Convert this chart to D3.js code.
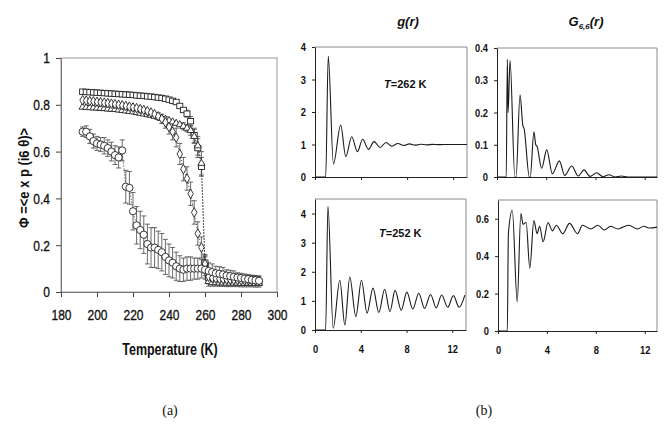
<!DOCTYPE html>
<html>
<head>
<meta charset="utf-8">
<script src="https://cdn.jsdelivr.net/npm/d3@7"></script>
<style>
  body { margin: 0; background: #fff; }
  text { font-family: Arial, "Liberation Sans", sans-serif; fill: #111; }
</style>
</head>
<body>
<svg id="svg" width="667" height="436"></svg>
<script>
// ---- panel (a): order parameter vs temperature ----
const temps = [192,194,196,198,200,202,204,206,208,210,212,214,216,218,220,222,224,226,228,230,
  232,234,236,238,240,242,244,246,248,250,252,254,256,258,260,262,264,266,268,270,
  272,274,276,278,280,282,284,286,288,290];

const squares = [.856,.855,.854,.853,.852,.851,.850,.849,.848,.847,
  .846,.845,.844,.843,.842,.840,.839,.838,.836,.835,
  .833,.831,.829,.826,.822,.817,.812,.795,.778,.762,
  .730,.670,.615,.535,.125,.060,.055,.052,.050,.050,
  .048,.047,.046,.045,.045,.044,.044,.043,.043,.043];
const squaresErr = [.008,.008,.008,.008,.008,.008,.008,.008,.008,.008,
  .008,.008,.008,.008,.008,.008,.008,.008,.008,.008,
  .008,.008,.008,.008,.008,.008,.010,.010,.012,.015,
  .020,.030,.040,.040,.030,.015,.015,.015,.015,.015,
  .015,.015,.015,.015,.015,.015,.015,.015,.015,.015];

const diamonds = [.820,.818,.816,.815,.813,.811,.809,.807,.805,.803,
  .800,.798,.795,.792,.789,.786,.782,.778,.773,.767,
  .760,.751,.740,.725,.705,.685,.660,.590,.525,.485,
  .420,.340,.250,.190,.120,.065,.060,.058,.056,.055,
  .054,.053,.052,.052,.051,.050,.050,.049,.049,.048];
const diamondsErr = [.010,.010,.010,.010,.010,.010,.010,.010,.010,.010,
  .010,.010,.010,.010,.010,.010,.010,.010,.010,.010,
  .012,.015,.020,.025,.030,.035,.040,.045,.050,.050,
  .050,.050,.050,.045,.040,.030,.020,.020,.020,.020,
  .020,.020,.020,.020,.020,.020,.020,.020,.020,.020];

const triangles = [.790,.789,.788,.787,.786,.785,.784,.782,.781,.780,
  .778,.776,.774,.772,.770,.767,.764,.761,.758,.755,
  .751,.747,.743,.738,.733,.727,.721,.715,.708,.700,
  .690,.665,.625,.550,.110,.045,.040,.040,.039,.039,
  .038,.038,.038,.038,.037,.037,.037,.037,.036,.036];
const trianglesErr = [.008,.008,.008,.008,.008,.008,.008,.008,.008,.008,
  .008,.008,.008,.008,.008,.008,.008,.008,.008,.008,
  .008,.008,.008,.008,.010,.010,.012,.012,.015,.015,
  .020,.030,.040,.050,.040,.020,.015,.015,.015,.015,
  .015,.015,.015,.015,.015,.015,.015,.015,.015,.015];

const circles = [.685,.685,.665,.645,.635,.630,.625,.615,.600,.585,
  .575,.605,.450,.445,.345,.285,.265,.245,.205,.190,
  .190,.180,.170,.150,.135,.125,.110,.100,.095,.100,
  .100,.100,.100,.100,.095,.090,.085,.080,.078,.075,
  .070,.068,.065,.062,.060,.057,.055,.052,.050,.048];
const circlesErr = [.020,.025,.030,.030,.030,.030,.035,.035,.040,.040,
  .045,.045,.070,.070,.080,.080,.080,.080,.085,.085,
  .085,.080,.080,.075,.070,.065,.060,.055,.050,.050,
  .050,.045,.045,.040,.040,.035,.035,.030,.030,.030,
  .025,.025,.025,.020,.020,.020,.020,.020,.020,.020];

const tempTicks = [180,200,220,240,260,280,300];
const phiTicks = [0,0.2,0.4,0.6,0.8,1];

// ---- panel (b): g(r) and G6(r) curves (peaks / troughs) ----
const g262R = [0,0.93,1.15,1.6,2.23,2.67,3.19,3.68,4.14,4.64,5.13,5.65,6.17,6.67,7.2,7.7,8.2,8.7,9.2,9.7,10.2,10.7,11.2,13.2];
const g262  = [0,0,3.72,0.40,1.60,0.63,1.24,0.78,1.16,0.85,1.09,0.91,1.06,0.95,1.03,0.97,1.02,0.98,1.01,0.99,1.005,0.995,1.0,1.0];

const g252R = [0,0.93,1.13,1.59,2.17,2.61,3.04,3.57,4.06,4.55,5.07,5.58,6.09,6.55,7.0,7.54,8.03,8.55,9.07,9.58,10.1,10.6,11.07,11.6,12.1,12.6,13.1];
const g252  = [0,0,4.25,0.06,1.71,0.17,1.82,0.46,1.71,0.58,1.44,0.60,1.40,0.63,1.36,0.68,1.30,0.72,1.26,0.74,1.22,0.76,1.20,0.78,1.18,0.78,1.20];

const G262R = [0,0.75,0.84,0.9,1.06,1.45,1.55,1.87,2.1,2.2,2.63,2.7,3.0,3.15,3.25,3.63,4.04,4.5,5.07,5.5,6.07,6.6,7.07,7.55,8.1,8.6,9.1,9.6,10.1,10.6,13];
const G262  = [0,0,0.365,0.2,0.362,0,0,0.255,0.16,0.15,0,0,0.14,0.10,0.095,0.027,0.084,0.01,0.05,0.005,0.034,0.003,0.022,0.002,0.013,0.001,0.007,0,0.003,0,0];

const G252R = [0,0.76,0.85,1.17,1.57,1.87,2.05,2.3,2.6,2.93,3.2,3.4,3.69,4.09,4.45,4.77,5.3,5.85,6.5,6.9,7.6,8.15,8.7,9.2,9.8,10.2,10.7,11.4,11.9,12.4,13];
const G252  = [0,0,0.52,0.645,0.156,0.628,0.57,0.58,0.335,0.59,0.52,0.56,0.477,0.58,0.535,0.565,0.52,0.575,0.52,0.565,0.545,0.565,0.54,0.56,0.545,0.555,0.565,0.545,0.56,0.55,0.555];

const rTicks = [0,4,8,12];

const svg = d3.select("#svg");

// narrow the text a bit, the scan uses a condensed face
function squeeze(sel, k) {
  sel.each(function () {
    const w = this.getComputedTextLength();
    this.setAttribute("textLength", w * k);
    this.setAttribute("lengthAdjust", "spacingAndGlyphs");
  });
}

// ================= panel (a) =================
const xA = d3.scaleLinear().domain([180, 300]).range([61, 277]);
const yA = d3.scaleLinear().domain([0, 1]).range([292, 58]);

svg.append("rect")
  .attr("x", 61).attr("y", 58).attr("width", 216).attr("height", 234)
  .attr("fill", "none").attr("stroke", "#9a9a9a").attr("stroke-width", 1);

const axA = svg.append("g").attr("transform", "translate(0,292)")
  .call(d3.axisBottom(xA).tickValues(tempTicks).tickSize(5).tickSizeOuter(0).tickPadding(12));
const ayA = svg.append("g").attr("transform", "translate(61,0)")
  .call(d3.axisLeft(yA).tickValues(phiTicks).tickSize(5).tickSizeOuter(0).tickPadding(6)
    .tickFormat(d => d === 0 || d === 1 ? d : d3.format(".1f")(d)));
[axA, ayA].forEach(a => {
  a.selectAll("path").attr("stroke", "#777");
  a.selectAll("line").attr("stroke", "#444");
  a.selectAll("text").attr("font-size", 15).attr("fill", "#111")
    .attr("stroke", "#111").attr("stroke-width", 0.35);
  squeeze(a.selectAll("text"), 0.8);
});

const series = [
  { v: squares, e: squaresErr, shape: "square" },
  { v: triangles, e: trianglesErr, shape: "triangle" },
  { v: diamonds, e: diamondsErr, shape: "diamond" },
  { v: circles, e: circlesErr, shape: "circle" }
];

const lineA = d3.line().x(d => xA(d[0])).y(d => yA(d[1]));
series.forEach(s => {
  const pts = temps.map((t, i) => [t, s.v[i], s.e[i]]);
  svg.append("path").attr("d", lineA(pts))
    .attr("fill", "none").attr("stroke", "#333").attr("stroke-width", 1)
    .attr("stroke-dasharray", "1,2");
  const eb = svg.append("g").attr("stroke", "#444").attr("stroke-width", 0.8);
  pts.filter(p => p[2] >= 0.015).forEach(p => {
    const x = xA(p[0]), y1 = yA(p[1] + p[2]), y2 = yA(p[1] - p[2]);
    eb.append("line").attr("x1", x).attr("x2", x).attr("y1", y1).attr("y2", y2);
    eb.append("line").attr("x1", x - 2.5).attr("x2", x + 2.5).attr("y1", y1).attr("y2", y1);
    eb.append("line").attr("x1", x - 2.5).attr("x2", x + 2.5).attr("y1", y2).attr("y2", y2);
  });
});

series.forEach(s => {
  const g = svg.append("g").attr("fill", "#fff").attr("stroke", "#222").attr("stroke-width", 0.9);
  temps.forEach((t, i) => {
    const x = xA(t), y = yA(s.v[i]);
    if (s.shape === "square") {
      g.append("rect").attr("x", x - 3).attr("y", y - 2.7).attr("width", 6).attr("height", 5.4);
    } else if (s.shape === "circle") {
      g.append("circle").attr("cx", x).attr("cy", y).attr("r", 3.6);
    } else {
      const sym = s.shape === "triangle" ? d3.symbolTriangle : d3.symbolDiamond;
      g.append("path").attr("transform", `translate(${x},${y})`)
        .attr("d", d3.symbol().type(sym).size(s.shape === "triangle" ? 22 : 26)());
    }
  });
});

const xlab = svg.append("text").attr("x", 170).attr("y", 355).attr("text-anchor", "middle")
  .attr("font-size", 16).attr("font-weight", "bold").text("Temperature (K)");
squeeze(xlab, 0.78);

const ylab = svg.append("text").attr("transform", "translate(29,178) rotate(-90)")
  .attr("text-anchor", "middle").attr("font-size", 15).attr("font-weight", "bold")
  .text("\u03A6 =<e x p (i6 \u03B8)>");
ylab.attr("textLength", 100).attr("lengthAdjust", "spacingAndGlyphs");

// ================= panel (b) =================
const curve = d3.curveMonotoneX;
function subplot(o) {
  const x = d3.scaleLinear().domain([0, o.xMax]).range([o.left, o.right]);
  const y = d3.scaleLinear().domain([0, o.yMax]).range([o.bottom, o.top]);
  svg.append("path")
    .attr("d", `M${o.left},${o.top}H${o.right}V${o.bottom}`)
    .attr("fill", "none").attr("stroke", "#8a8a8a").attr("stroke-width", 1);
  const ax = svg.append("g").attr("transform", `translate(0,${o.bottom})`)
    .call(d3.axisBottom(x).tickValues(rTicks).tickSize(3).tickSizeOuter(0).tickPadding(12)
      .tickFormat(o.xLabels ? d3.format("d") : ""));
  const ay = svg.append("g").attr("transform", `translate(${o.left},0)`)
    .call(d3.axisLeft(y).tickValues(o.yTicks).tickSize(3).tickSizeOuter(0).tickPadding(6)
      .tickFormat(d => d === 0 ? "0" : d3.format(o.fmt)(d)));
  [ax, ay].forEach(a => {
    a.selectAll("path").attr("stroke", "#222");
    a.selectAll("line").attr("stroke", "#222");
    a.selectAll("text").attr("font-size", 11).attr("font-weight", "bold").attr("fill", "#111");
    squeeze(a.selectAll("text"), 0.85);
  });
  const line = d3.line().curve(curve).x(d => x(d[0])).y(d => y(d[1]));
  svg.append("path").attr("d", line(o.r.map((r, i) => [r, o.v[i]])))
    .attr("fill", "none").attr("stroke", "#1a1a1a").attr("stroke-width", 1.1);
  if (o.label) {
    const t = svg.append("text").attr("x", o.label[0]).attr("y", o.label[1])
      .attr("font-size", 11).attr("font-weight", "bold");
    t.append("tspan").attr("font-style", "italic").text("T");
    t.append("tspan").text(o.label[2]);
  }
}

subplot({ left: 315, right: 467, top: 47, bottom: 177, xMax: 13.2, yMax: 4,
  yTicks: [0,1,2,3,4], fmt: "d", xLabels: false, r: g262R, v: g262, label: [384, 88, "=262 K"] });
subplot({ left: 315, right: 466, top: 199, bottom: 330, xMax: 13.2, yMax: 4.5,
  yTicks: [0,1,2,3,4], fmt: "d", xLabels: true, r: g252R, v: g252, label: [379, 237, "=252 K"] });
subplot({ left: 497, right: 657, top: 48, bottom: 177, xMax: 13, yMax: 0.4,
  yTicks: [0,0.1,0.2,0.3,0.4], fmt: ".1f", xLabels: false, r: G262R, v: G262 });
subplot({ left: 498, right: 657, top: 200, bottom: 331, xMax: 13, yMax: 0.7,
  yTicks: [0,0.2,0.4,0.6], fmt: ".1f", xLabels: true, r: G252R, v: G252 });

// column titles
const t1 = svg.append("text").attr("x", 408).attr("y", 26).attr("text-anchor", "middle")
  .attr("font-size", 13).attr("font-weight", "bold").attr("font-style", "italic");
t1.append("tspan").text("g(");
t1.append("tspan").text("r");
t1.append("tspan").text(")");
const t2 = svg.append("text").attr("x", 586).attr("y", 26).attr("text-anchor", "middle")
  .attr("font-size", 13).attr("font-weight", "bold").attr("font-style", "italic");
t2.append("tspan").text("G");
t2.append("tspan").attr("font-size", 8).attr("dy", 3).text("6,6");
t2.append("tspan").attr("dy", -3).text("(r)");

// captions
svg.append("text").attr("x", 170).attr("y", 415).attr("text-anchor", "middle")
  .style("font-family", "'Liberation Serif','Times New Roman',serif").attr("font-size", 14).text("(a)");
svg.append("text").attr("x", 484).attr("y", 415).attr("text-anchor", "middle")
  .style("font-family", "'Liberation Serif','Times New Roman',serif").attr("font-size", 14).text("(b)");
</script>
</body>
</html>
